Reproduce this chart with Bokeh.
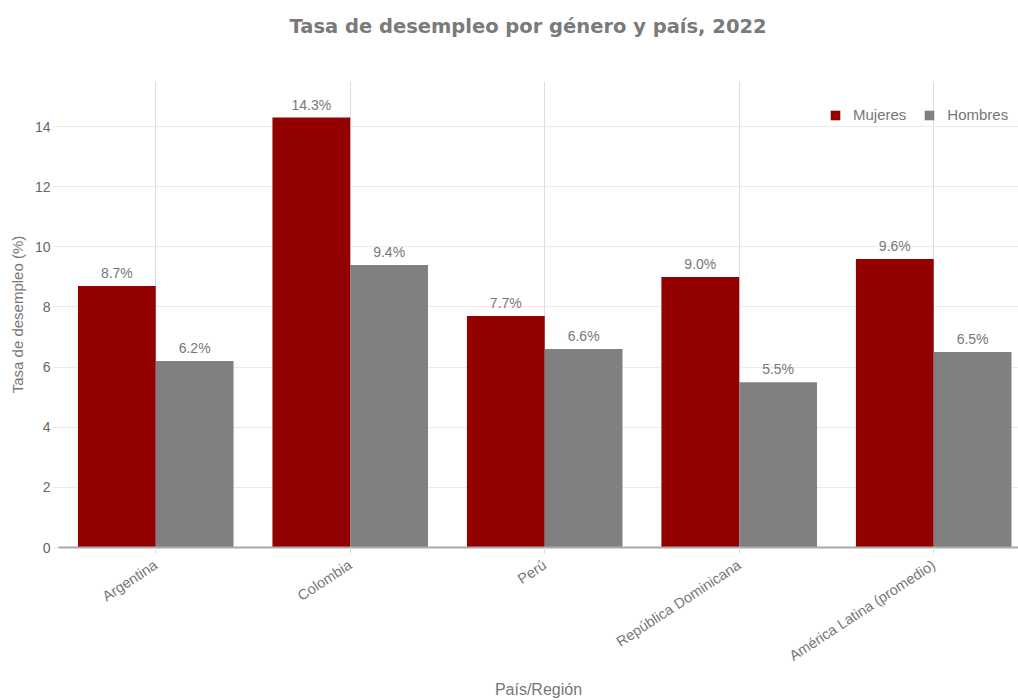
import numpy as np
from bokeh.plotting import figure
from bokeh.models import ColumnDataSource, Range1d, FixedTicker, Title
from bokeh.core.properties import value
from bokeh.embed import file_html
from bokeh.resources import INLINE

title_text = "Tasa de desempleo por género y país, 2022"
categories = ["Argentina", "Colombia", "Perú", "República Dominicana", "América Latina (promedio)"]
mujeres = [8.7, 14.3, 7.7, 9.0, 9.6]
hombres = [6.2, 9.4, 6.6, 5.5, 6.5]
y_ticks = [0, 2, 4, 6, 8, 10, 12, 14]

RED = "#930000"
GRAY = "#808080"
TXT = "#777777"
FONT = "Liberation Sans"

pos = np.arange(len(categories)) + 0.5
src = ColumnDataSource(dict(
    pos=pos,
    xm=pos - 0.2,
    xh=pos + 0.2,
    m=mujeres,
    h=hombres,
    mlab=[f"{v:.1f}%" for v in mujeres],
    hlab=[f"{v:.1f}%" for v in hombres],
))

p = figure(width=1018, height=700, output_backend="svg", toolbar_location=None,
           x_range=Range1d(0, 4.936), y_range=Range1d(0, 15.5),
           min_border_left=58, min_border_right=0, min_border_top=81, min_border_bottom=152)
p.outline_line_color = None
p.background_fill_color = "white"
p.border_fill_color = "white"

# spacer between the frame and the chart title (closest to the frame)
p.add_layout(Title(text=" ", text_font_size="10px", standoff=31), "above")
# chart title
p.add_layout(Title(text=title_text, align="left", offset=231, standoff=0,
                   text_font="DejaVu Sans", text_font_style="bold", text_font_size="19.5px",
                   text_color="#7a7a7a"), "above")

p.vbar(x="xm", top="m", width=0.4, source=src, fill_color=RED, line_color=None, legend_label="Mujeres")
p.vbar(x="xh", top="h", width=0.4, source=src, fill_color=GRAY, line_color=None, legend_label="Hombres")

for xcol, ycol, tcol in [("xm", "m", "mlab"), ("xh", "h", "hlab")]:
    p.text(x=xcol, y=ycol, text=tcol, source=src, text_align="center", text_baseline="bottom",
           y_offset=-5, text_font=value(FONT), text_font_size="14px", text_color=TXT)

# x axis
p.xaxis.ticker = FixedTicker(ticks=list(pos))
p.xaxis.major_label_overrides = {float(x): c for x, c in zip(pos, categories)}
p.xaxis.major_label_orientation = 0.58
p.xaxis.axis_line_color = "#aaaaaa"
p.xaxis.axis_line_width = 2
p.xaxis.major_tick_line_color = "#dddddd"
p.xaxis.major_tick_out = 6
p.xaxis.major_tick_in = 0
p.xaxis.minor_tick_line_color = None
p.xaxis.major_label_text_font = FONT
p.xaxis.major_label_text_font_size = "14.5px"
p.xaxis.major_label_text_color = TXT
p.xaxis.major_label_standoff = 10
p.xaxis.axis_label = "País/Región"
p.xaxis.axis_label_text_font = FONT
p.xaxis.axis_label_text_font_style = "normal"
p.xaxis.axis_label_text_font_size = "16px"
p.xaxis.axis_label_text_color = TXT
p.xaxis.axis_label_standoff = 7

# y axis
p.yaxis.ticker = FixedTicker(ticks=y_ticks)
p.yaxis.axis_line_color = None
p.yaxis.major_tick_line_color = "#e6e6e6"
p.yaxis.major_tick_out = 5
p.yaxis.major_tick_in = 0
p.yaxis.minor_tick_line_color = None
p.yaxis.major_label_text_font = FONT
p.yaxis.major_label_text_font_size = "14px"
p.yaxis.major_label_text_color = "#666666"
p.yaxis.major_label_standoff = 3
p.yaxis.axis_label = "Tasa de desempleo (%)"
p.yaxis.axis_label_text_font = FONT
p.yaxis.axis_label_text_font_style = "normal"
p.yaxis.axis_label_text_font_size = "15px"
p.yaxis.axis_label_text_color = TXT
p.yaxis.axis_label_standoff = 6

p.xgrid.grid_line_color = "#dddddd"
p.ygrid.grid_line_color = "#ebebeb"

p.legend.location = (771, 424)
p.legend.orientation = "horizontal"
p.legend.border_line_color = None
p.legend.background_fill_alpha = 0
p.legend.label_text_font = FONT
p.legend.label_text_font_size = "15px"
p.legend.label_text_color = TXT
p.legend.glyph_width = 12
p.legend.glyph_height = 12
p.legend.label_standoff = 12
p.legend.spacing = 17
p.legend.margin = 0
p.legend.padding = 0

open("out.html", "w").write(file_html(p, INLINE))
